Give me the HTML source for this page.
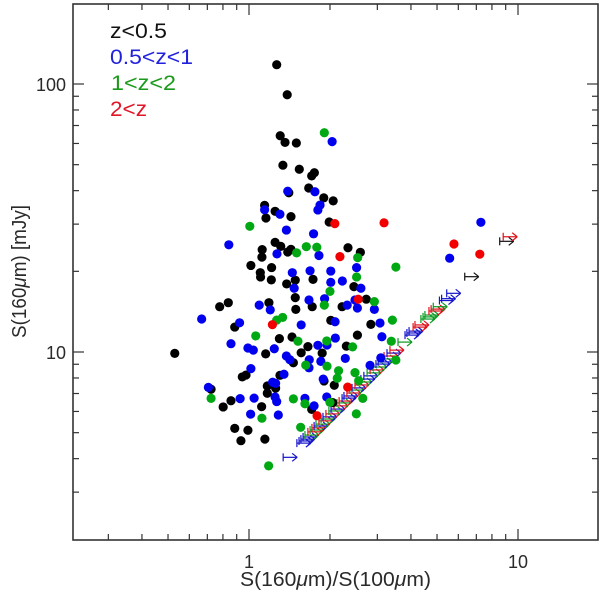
<!DOCTYPE html>
<html>
<head>
<meta charset="utf-8">
<style>
html,body{margin:0;padding:0;background:#fff;width:600px;height:595px;overflow:hidden}
svg{display:block}
text{font-family:"Liberation Sans",sans-serif;fill:#2a2a2a}
</style>
</head>
<body>
<svg id="chart" width="600" height="595" viewBox="0 0 600 595" xmlns="http://www.w3.org/2000/svg">
  <rect x="73" y="4" width="525" height="536" fill="none" stroke="#333" stroke-width="1.6"/>
  <g id="ticks"></g>
  <g id="limits"></g>
  <g id="dots"></g>
  <g id="ticklabels"></g>
  <text x="240" y="586" font-size="20" textLength="191" lengthAdjust="spacingAndGlyphs">S(160<tspan font-style="italic">μ</tspan>m)/S(100<tspan font-style="italic">μ</tspan>m)</text>
  <text transform="translate(26,338) rotate(-90)" font-size="20" textLength="133" lengthAdjust="spacingAndGlyphs">S(160<tspan font-style="italic">μ</tspan>m) [mJy]</text>
  <g font-size="21">
    <text x="110" y="38" textLength="57" lengthAdjust="spacingAndGlyphs" style="fill:#111">z&lt;0.5</text>
    <text x="110" y="64" textLength="83" lengthAdjust="spacingAndGlyphs" style="fill:#2222dd">0.5&lt;z&lt;1</text>
    <text x="111" y="90" textLength="65" lengthAdjust="spacingAndGlyphs" style="fill:#1a9a1a">1&lt;z&lt;2</text>
    <text x="110" y="116" textLength="37" lengthAdjust="spacingAndGlyphs" style="fill:#e01525">2&lt;z</text>
  </g>
</svg>
<script>
// All series values are in dex: log10 of S(160um)/S(100um), and log10 of S(160um) in mJy.
var xMajorTicks = [1, 10];
var xMinorTicks = [0.3, 0.4, 0.5, 0.6, 0.7, 0.8, 0.9, 2, 3, 4, 5, 6, 7, 8, 9];
var yMajorTicks = [10, 100];
var yMinorTicks = [3, 4, 5, 6, 7, 8, 9, 20, 30, 40, 50, 60, 70, 80, 90];
var xTickLabels = ["1", "10"];
var yTickLabels = ["10", "100"];

var blackRatio = [.103,.142,.116,.134,.176,.126,.187,.243,.233,.222,.148,.278,.313,.058,.097,.063,.156,.298,.097,.118,.156,.144,.049,.048,.368,.414,.007,.084,.042,.043,.083,-.077,-.109,.074,-.053,.113,.062,-.276,-.011,-.025,.115,-.141,.068,.099,.068,-.067,-.096,.047,-.053,-.004,-.030,.059,.140,.172,.238,.172,.174,.235,.346,.390,.436,.453,.304,.160,.403,.362,.219,.194,.272,.165,.279,.317,.233,.311];
var blackFlux = [1.072,.960,.807,.782,.780,.697,.682,.669,.657,.612,.594,.575,.564,.547,.525,.500,.505,.485,.409,.394,.383,.373,.382,.354,.389,.372,.323,.315,.296,.280,.269,.184,.169,.184,.093,.050,-.007,-.005,-.086,-.093,-.087,-.139,-.127,-.135,-.154,-.182,-.205,-.204,-.285,-.292,-.331,-.325,.254,.268,.271,.203,.159,.169,.169,.244,.197,.103,.118,.056,.063,.022,.020,-.003,-.004,-.040,-.108,-.124,-.214,-.189];

var blueRatio = [.309,.144,.245,.264,.256,.058,.115,.139,.240,-.075,.104,.260,.038,.079,-.176,-.035,-.067,-.004,.016,.094,.007,-.151,.088,.099,-.033,.019,.097,.103,.006,.109,.400,.161,.227,.304,.304,.347,.168,.416,.223,.281,.365,.403,.466,.394,.487,.320,.194,.494,.321,.256,.290,.139,.152,.224,.267,.358,.223,.450,.490,.130,.276,.208,.289,.242,.862,.746];
var blueFlux = [.785,.600,.598,.548,.530,.531,.514,.455,.441,.400,.366,.360,.175,.157,.123,.109,.031,.015,.007,.012,-.062,-.132,-.113,-.117,-.174,-.172,-.168,-.185,-.232,-.235,.315,.296,.303,.302,.260,.265,.238,.238,.194,.199,.175,.164,.159,.194,.108,.113,.101,.057,.052,.025,.026,-.015,-.029,-.029,-.035,-.024,-.059,-.050,-.022,-.083,-.101,-.173,-.168,-.201,.484,.350];

var greenRatio = [.280,.003,.213,.252,.177,.404,.103,.025,-.141,.048,.073,.546,.400,.301,.280,.466,.533,.125,.182,.289,.385,.529,.211,.290,.333,.328,.394,.408,.546,.165,.208,.301,.423,.399,.192];
var greenFlux = [.818,.469,.393,.391,.370,.352,.119,.060,-.173,-.247,-.425,.317,.280,.226,.175,.188,.119,.129,.040,.041,.019,.040,-.049,-.053,-.070,-.098,-.077,-.107,-.030,-.175,-.193,-.188,-.173,-.231,-.281];

var redRatio = [.319,.502,.338,.087,.406,.367,.253,.762,.858];
var redFlux = [.479,.482,.356,.102,.197,-.131,-.238,.403,.365];

// Lower limits on the ratio (arrow points right). limitBin: 0 z<0.5, 1 0.5<z<1, 2 1<z<2, 3 2<z
var limitRatio = [.178,.186,.193,.201,.208,.219,.227,.234,.242,.249,.260,.268,.275,.286,.297,.305,.316,.327,.335,.346,.353,.364,.375,.383,.394,.405,.416,.427,.439,.450,.461,.472,.480,.491,.502,.513,.524,.554,.580,.587,.595,.610,.617,.639,.647,.654,.669,.677,.685,.708,.716,.735,.127,.802,.932,.945];
var limitFlux = [-.340,-.332,-.325,-.317,-.310,-.298,-.291,-.283,-.276,-.269,-.257,-.250,-.242,-.231,-.220,-.213,-.201,-.190,-.183,-.172,-.164,-.153,-.142,-.134,-.123,-.112,-.101,-.089,-.078,-.067,-.056,-.045,-.037,-.026,-.015,-.004,.007,.037,.063,.071,.078,.093,.101,.123,.131,.138,.153,.160,.169,.192,.199,.219,-.393,.281,.413,.430];
var limitBin = [1,1,1,1,2,3,2,3,1,2,3,2,1,3,2,1,3,2,3,1,1,3,2,1,3,2,1,1,2,3,2,1,1,2,3,1,3,2,1,1,1,3,3,2,2,2,3,3,2,1,1,1,1,0,0,3];

var NS = 'http://www.w3.org/2000/svg';
var LEFT = 73, RIGHT = 598, TOP = 4, BOTTOM = 540;
function xDex(d) { return 249 + 269 * d; }
function yDex(d) { return 352 - 268 * (d - 0); }
function xVal(v) { return xDex(Math.log10(v)); }
function yVal(v) { return yDex(Math.log10(v) - 1); }
var lineColors = ['#111111', '#1515cc', '#0a9a20', '#e0101a'];
var dotColors = { black: '#000000', blue: '#0000ee', green: '#00a814', red: '#f20000' };

function line(parent, x1, y1, x2, y2, color, width) {
  var el = document.createElementNS(NS, 'line');
  el.setAttribute('x1', x1);
  el.setAttribute('y1', y1);
  el.setAttribute('x2', x2);
  el.setAttribute('y2', y2);
  el.setAttribute('stroke', color);
  el.setAttribute('stroke-width', width);
  parent.appendChild(el);
  return el;
}

var tickGroup = document.getElementById('ticks');
function xTick(v, len) {
  var a = line(tickGroup, xVal(v), BOTTOM, xVal(v), BOTTOM - len, '#333', 1.2);
  
  
  var b = line(tickGroup, xVal(v), TOP, xVal(v), TOP + len, '#333', 1.2);
  
  
}
function yTick(v, len) {
  var a = line(tickGroup, LEFT, yVal(v), LEFT + len, yVal(v), '#333', 1.2);
  
  
  var b = line(tickGroup, RIGHT, yVal(v), RIGHT - len, yVal(v), '#333', 1.2);
  
  
}
xMajorTicks.forEach(function (v) { xTick(v, 11); });
xMinorTicks.forEach(function (v) { xTick(v, 6); });
yMajorTicks.forEach(function (v) { yTick(v, 11); });
yMinorTicks.forEach(function (v) { yTick(v, 6); });

var labelGroup = document.getElementById('ticklabels');
xTickLabels.forEach(function (s, i) {
  var t = document.createElementNS(NS, 'text');
  
  
  t.setAttribute('x', xVal(xMajorTicks[i]));
  t.setAttribute('y', 568);
  t.setAttribute('text-anchor', 'middle');
  t.setAttribute('font-size', '18');
  t.textContent = s;
  labelGroup.appendChild(t);
});
yTickLabels.forEach(function (s, i) {
  var t = document.createElementNS(NS, 'text');
  
  
  t.setAttribute('x', 66);
  t.setAttribute('y', yVal(yMajorTicks[i]) + 7);
  t.setAttribute('text-anchor', 'end');
  t.setAttribute('font-size', '18');
  t.textContent = s;
  labelGroup.appendChild(t);
});

var limitGroup = document.getElementById('limits');
limitRatio.forEach(function (r, i) {
  var g = document.createElementNS(NS, 'g');
  
  
  var c = lineColors[limitBin[i]];
  var x = xDex(r), y = yDex(limitFlux[i]);
  line(g, x, y - 4, x, y + 4, c, 1.2);
  line(g, x, y, x + 14, y, c, 1.2);
  line(g, x + 14, y, x + 9, y - 4, c, 1.2);
  line(g, x + 14, y, x + 9, y + 4, c, 1.2);
  limitGroup.appendChild(g);
});

var dotGroup = document.getElementById('dots');
function drawSeries(name, xs, ys) {
  xs.forEach(function (r, i) {
    var c = document.createElementNS(NS, 'circle');
    
    
    c.setAttribute('cx', xDex(r));
    c.setAttribute('cy', yDex(ys[i]));
    c.setAttribute('r', 4.6);
    c.setAttribute('fill', dotColors[name]);
    dotGroup.appendChild(c);
  });
}
drawSeries('black', blackRatio, blackFlux);
drawSeries('blue', blueRatio, blueFlux);
drawSeries('green', greenRatio, greenFlux);
drawSeries('red', redRatio, redFlux);
</script>
</body>
</html>
